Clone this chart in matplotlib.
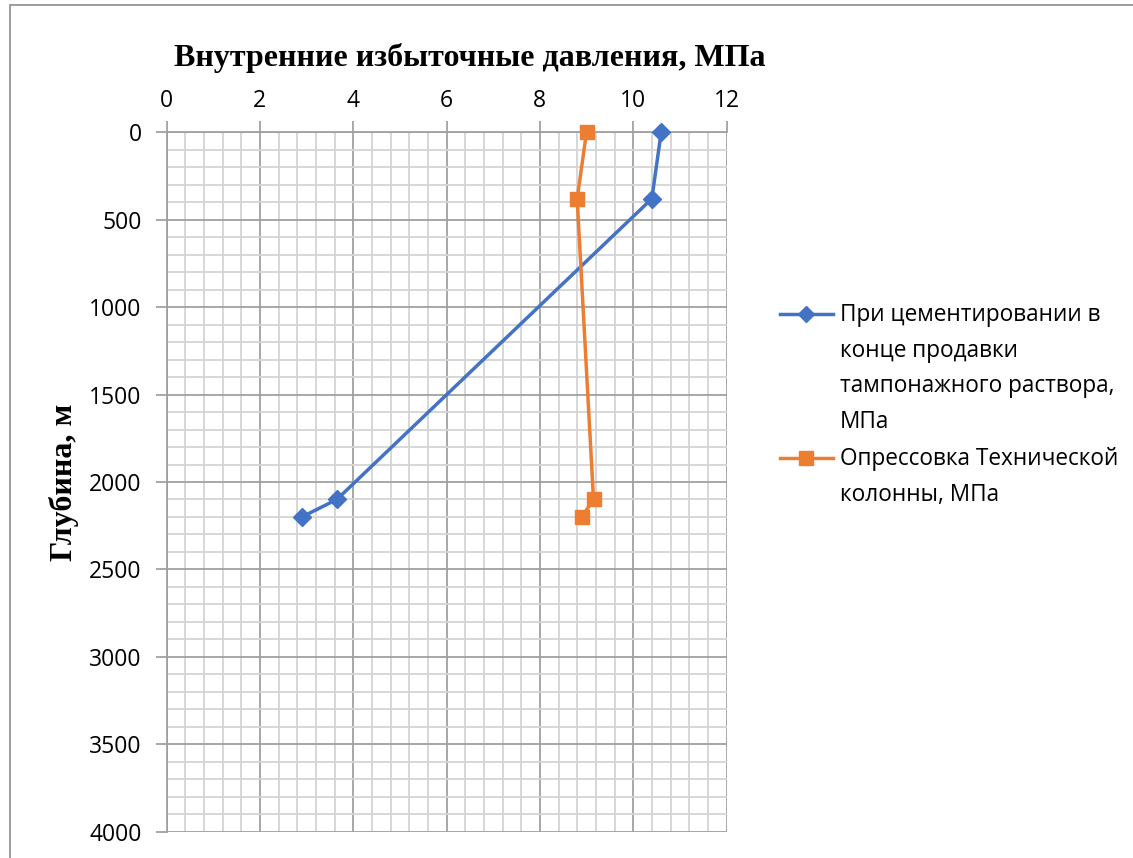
import matplotlib.pyplot as plt
from matplotlib.lines import Line2D
from matplotlib.patches import Rectangle
from matplotlib.ticker import MultipleLocator

# Depth, m
depth_cement = [0, 380, 2100, 2200]
depth_test = [0, 380, 2100, 2200]
# Internal excess pressure, MPa
p_cement = [10.6, 10.4, 3.65, 2.9]
p_test = [9.0, 8.8, 9.15, 8.9]

label_cement = "При цементировании в\nконце продавки\nтампонажного раствора,\nМПа"
label_test = "Опрессовка Технической\nколонны, МПа"

BLUE = '#4472C4'
ORANGE = '#ED7D31'
W, H = 1133, 858

plt.rcParams['font.family'] = ['Open Sans', 'DejaVu Sans']

fig = plt.figure(figsize=(W / 100, H / 100), dpi=100)
# chart frame
fig.patches.append(Rectangle((10 / W, -0.1), 1.2, 1 - 5 / H + 0.1,
                             transform=fig.transFigure, fill=False,
                             edgecolor='#8c8c8c', linewidth=1.2))

ax = fig.add_axes([166.5 / W, 1 - 831.7 / H, 560 / W, 699.4 / H])

ax.plot(p_cement, depth_cement, color=BLUE, lw=2.5, marker='D',
        markersize=9, zorder=4, clip_on=False)
ax.plot(p_test, depth_test, color=ORANGE, lw=2.5, marker='s',
        markersize=10.5, zorder=4, clip_on=False)

ax.set_xlim(0, 12)
ax.set_ylim(4000, 0)
ax.xaxis.set_major_locator(MultipleLocator(2))
ax.xaxis.set_minor_locator(MultipleLocator(0.4))
ax.yaxis.set_major_locator(MultipleLocator(500))
ax.yaxis.set_minor_locator(MultipleLocator(100))
ax.xaxis.tick_top()
ax.tick_params(which='major', direction='out', length=8, width=1.2,
               color='#999999', labelsize=16.5)
ax.tick_params(axis='x', which='major', pad=6)
ax.tick_params(axis='y', which='major', pad=10)
ax.tick_params(which='minor', length=0)

ax.grid(which='major', color='#a0a0a0', lw=1.3)
ax.grid(which='minor', color='#d4d4d4', lw=1.3)
ax.set_axisbelow(True)
for side in ['left', 'top']:
    ax.spines[side].set_color('#a0a0a0')
    ax.spines[side].set_linewidth(1.3)
for side in ['right', 'bottom']:
    ax.spines[side].set_visible(False)

fig.text(470 / W, 1 - 58 / H, "Внутренние избыточные давления, МПа",
         family='Liberation Serif', weight='bold', fontsize=23,
         ha='center', va='center')
fig.text(64 / W, 1 - 482 / H, "Глубина, м", family='Liberation Serif',
         weight='bold', fontsize=23, rotation=90, ha='center', va='center')

# legend with the handle next to the first line of each label
entries = [(label_cement, BLUE, 'D', 8, 314), (label_test, ORANGE, 's', 10, 458)]
for text, color, marker, ms, ypix in entries:
    y = 1 - ypix / H
    fig.add_artist(Line2D([780 / W, 806 / W, 833 / W], [y, y, y],
                          transform=fig.transFigure, color=color, lw=2.5,
                          marker=marker, markersize=ms, markevery=[1]))
    fig.text(840 / W, 1 - (ypix - 11) / H, text, fontsize=16.3, ha='left',
             va='top', linespacing=1.65, transform=fig.transFigure)

fig.savefig('out.png', dpi=100)
